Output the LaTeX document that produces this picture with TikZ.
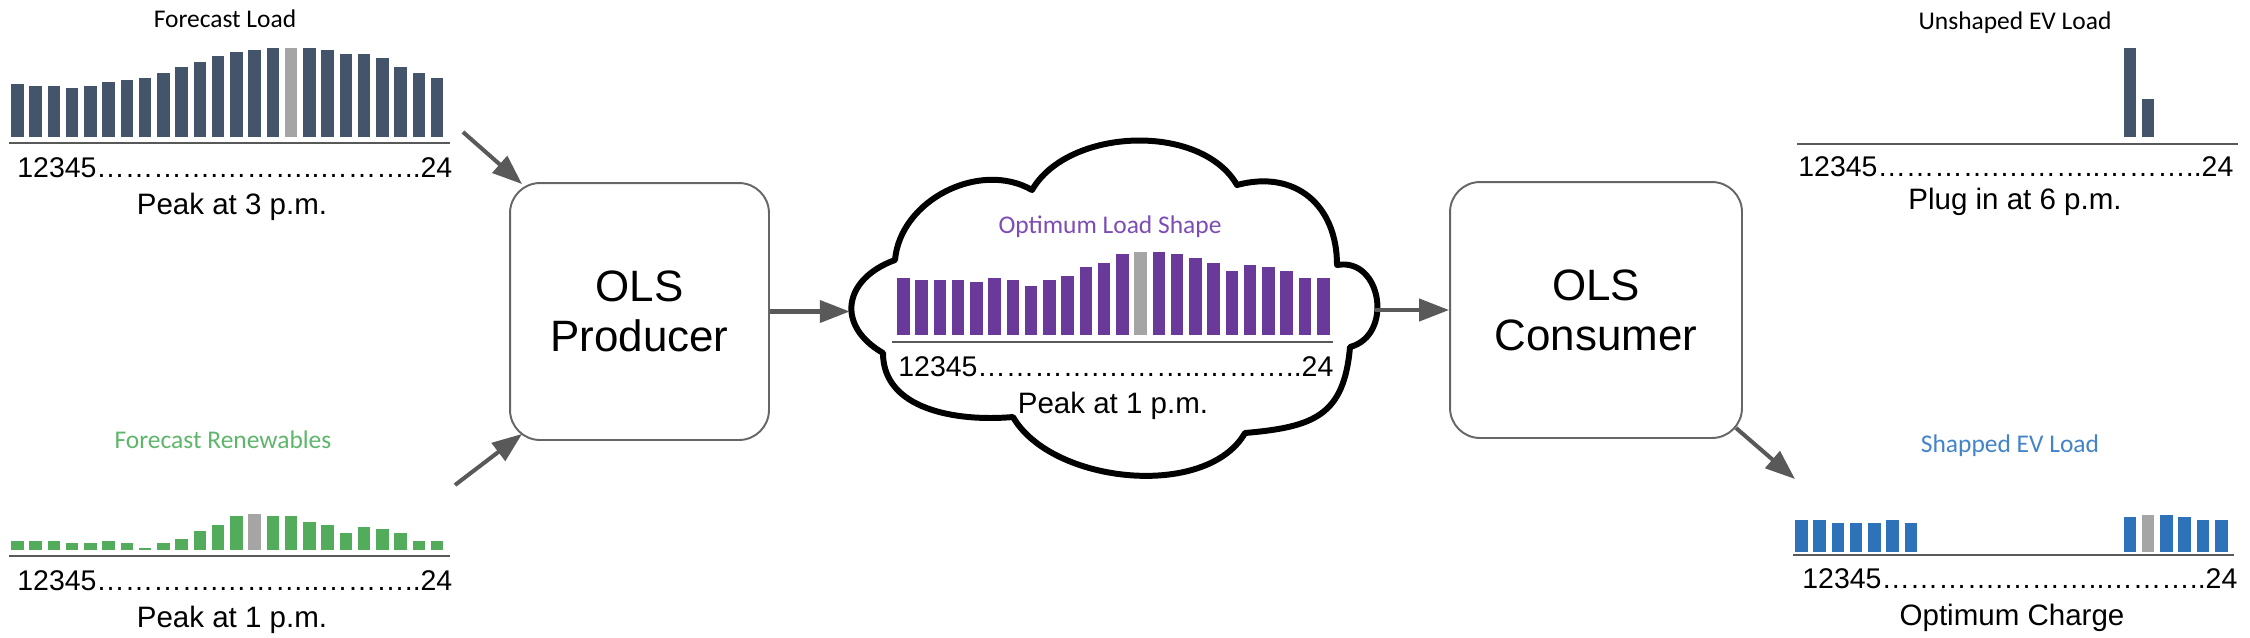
\documentclass[tikz,border=0pt]{standalone}
\usepackage{fontspec}
\setmainfont{Liberation Sans}
\newfontfamily\calibrifont{Carlito}
\usetikzlibrary{arrows.meta,positioning}
\definecolor{loadslate}{HTML}{44546A}
\definecolor{peakgray}{HTML}{A5A5A5}
\definecolor{renewgreen}{HTML}{52AC5C}
\definecolor{renewtext}{HTML}{5DB66A}
\definecolor{olspurple}{HTML}{6A3A9B}
\definecolor{olstext}{HTML}{7D4DB5}
\definecolor{evblue}{HTML}{2E72BA}
\definecolor{evtext}{HTML}{4283CA}
\definecolor{arrowgray}{HTML}{595959}
\definecolor{boxgray}{HTML}{666666}
\newcommand{\hourrow}{12345\ldots\ldots\ldots\ldots.\ldots\ldots\ldots..\ldots\ldots\ldots..24}

\begin{document}
\begin{tikzpicture}[x=0.02cm, y=-0.02cm,
    olsbox/.style={draw=boxgray, line width=1.1pt, rounded corners=0.6cm, align=center,
      font=\fontsize{25}{28.5}\selectfont},
    flow/.style={draw=arrowgray, line width=2.3pt, -{Triangle[length=17pt,width=12.5pt]}},
    axisline/.style={draw=arrowgray, line width=1.2pt},
    charttitle/.style={font=\calibrifont\fontsize{14.5}{17}\selectfont, anchor=base, inner sep=0pt},
    hourlabel/.style={font=\fontsize{16.2}{19}\selectfont, anchor=base west, inner sep=0pt},
    peaklabel/.style={font=\fontsize{16.8}{20}\selectfont, anchor=base, inner sep=0pt}]

\useasboundingbox (0,0) rectangle (2250,637);

% forecast load
\node[charttitle] (loadtitle) at (225,27) {Forecast Load};
\foreach \h [count=\i from 0] in {53.3,51,51,48.7,51,55.3,57.3,59.3,64,70,74.7,81,85,87.3,89.3,89.3,89.3,87.3,83.3,83.3,79,70,64,59.3}
  \fill[loadslate] ({11+18.26*\i},137) rectangle ++(12.5,-\h);
\fill[peakgray] ({11+18.26*15},137) rectangle ++(12.5,-89.3);
\draw[axisline] (9,143) -- (450,143);
\node[hourlabel] (loadhours) at (17,177) {\hourrow};
\node[peaklabel] (loadpeak) at (232,214) {Peak at 3 p.m.};
\coordinate (loadout) at (463,132);

% forecast renewables
\node[charttitle, text=renewtext] (renewtitle) at (223,448) {Forecast Renewables};
\foreach \h [count=\i from 0] in {9,9,9,6.7,6.7,9,6.7,2.3,6.7,11,19.3,25.3,33.7,35.7,33.7,33.7,27.7,25.3,17,23.3,21.3,17,9,9}
  \fill[renewgreen] ({11+18.26*\i},550) rectangle ++(12.5,-\h);
\fill[peakgray] ({11+18.26*13},550) rectangle ++(12.5,-35.7);
\draw[axisline] (9,556) -- (450,556);
\node[hourlabel] (renewhours) at (17,590) {\hourrow};
\node[peaklabel] (renewpeak) at (232,627) {Peak at 1 p.m.};
\coordinate (renewout) at (455,485);

% optimum load shape
\draw[line width=3.4pt, line join=round, fill=white]
  (883,353) to[out=150,in=200,looseness=1.5] (895,260)
  to[out=85,in=150] (1032,190)
  to[out=60,in=120,looseness=0.9] (1237,185)
  to[out=15,in=90,looseness=1.2] (1337,265)
  to[out=10,in=15,looseness=1.4] (1350,347)
  to[out=-95,in=5,looseness=1.3] (1245,433)
  to[out=240,in=-60,looseness=0.85] (1013,417)
  to[out=185,in=-90] (883,353) -- cycle;
\node[minimum width=10.5cm, minimum height=6.6cm] (ols) at (1112.5,308) {};
\node[charttitle, text=olstext] (olstitle) at (1110,233) {Optimum Load Shape};
\foreach \h [count=\i from 0] in {57.3,55,55,55,52.7,57.3,55,48.7,55,59.3,68,72.3,80.7,82.7,82.7,80.7,76.7,72.3,63.7,70,68,63.7,57.3,57.3}
  \fill[olspurple] ({897+18.26*\i},335) rectangle ++(12.5,-\h);
\fill[peakgray] ({897+18.26*13},335) rectangle ++(12.5,-82.7);
\draw[axisline] (892,342) -- (1333,342);
\node[hourlabel] (olshours) at (898,376) {\hourrow};
\node[peaklabel] (olspeak) at (1113,413) {Peak at 1 p.m.};

% producer and consumer
\node[olsbox, minimum width=5.18cm, minimum height=5.14cm] (producer) at (639.5,311.5) {OLS\\Producer};
\node[olsbox, minimum width=5.84cm, minimum height=5.12cm] (consumer) at (1596,310) {OLS\\Consumer};

% unshaped ev load
\node[charttitle] (unshapedtitle) at (2015,29) {Unshaped EV Load};
\foreach \i/\h in {18/89,19/38}
  \fill[loadslate] ({1795+18.26*\i},137) rectangle ++(12.5,-\h);
\draw[axisline] (1797,144) -- (2238,144);
\node[hourlabel] (unshapedhours) at (1798,176) {\hourrow};
\node[peaklabel] (unshapedpeak) at (2015,209) {Plug in at 6 p.m.};

% shaped ev load
\node[charttitle, text=evtext] (shapedtitle) at (2010,452) {Shapped EV Load};
\foreach \i/\h in {0/31.7,1/31.7,2/29.3,3/29.3,4/29.3,5/31.7,6/29.3,18/35.3,19/37.3,20/37.3,21/35.3,22/31.7,23/31.7}
  \fill[evblue] ({1795+18.26*\i},552) rectangle ++(12.5,-\h);
\fill[peakgray] ({1795+18.26*19},552) rectangle ++(12.5,-37.3);
\draw[axisline] (1793,555) -- (2234,555);
\node[hourlabel] (shapedhours) at (1802,588) {\hourrow};
\node[peaklabel] (shapedpeak) at (2012,625) {Optimum Charge};
\coordinate (shapedin) at (1795,479);

\draw[flow] (loadout) -- ([xshift=0.26cm,yshift=-0.04cm]producer.north west);
\draw[flow] (renewout) -- ([xshift=0.26cm,yshift=0.14cm]producer.south west);
\draw[flow] (producer.east) -- (producer.east -| ols.west);
\draw[flow] (consumer.west -| ols.east) -- (consumer.west);
\draw[flow] ([xshift=-0.14cm,yshift=0.22cm]consumer.south east) -- (shapedin);
\end{tikzpicture}
\end{document}
